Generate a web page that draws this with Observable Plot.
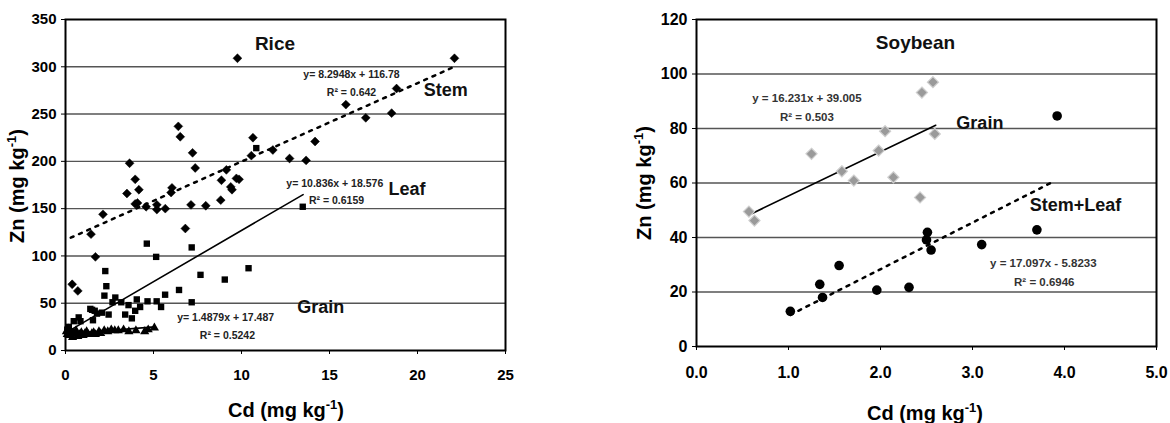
<!DOCTYPE html>
<html>
<head>
<meta charset="utf-8">
<script src="https://cdn.jsdelivr.net/npm/d3@7"></script>
<script src="https://cdn.jsdelivr.net/npm/@observablehq/plot@0.6"></script>
<style>
  body { margin: 0; background: #fff; }
  #wrap { position: relative; width: 1170px; height: 423px; overflow: hidden; background: #fff; }
  #left, #right { position: absolute; top: 0; }
  #left { left: 0; }
  #right { left: 585px; }
  svg { font-family: "Liberation Sans", Arial, sans-serif; }
</style>
</head>
<body>
<div id="wrap"><div id="left"></div><div id="right"></div></div>
<script>
// ---------- Rice (left panel) ----------
const riceXTicks = [0, 5, 10, 15, 20, 25];
const riceYTicks = [0, 50, 100, 150, 200, 250, 300, 350];
const riceStem = [[0.38,70],[0.7,63],[1.45,123],[1.7,99],[2.13,144],[3.49,166],[3.64,198],[3.96,181],[3.96,155],[4.09,156],[4.17,170],[4.58,152],[5.19,154],[5.19,149],[5.67,150],[6.0,167],[6.05,172],[6.41,237],[6.52,226],[6.81,129],[7.13,154],[7.22,209],[7.37,193],[7.97,153],[8.82,159],[8.86,180],[9.14,191],[9.39,173],[9.46,170],[9.71,182],[9.77,309],[9.86,181],[10.56,206],[10.65,225],[11.78,212],[12.73,203],[13.67,201],[14.18,221],[15.93,260],[17.06,246],[18.53,251],[18.81,277],[22.1,309]];
const riceLeaf = [[0.1,22],[0.19,25],[0.3,20],[0.47,31],[0.75,35],[0.85,31],[1.41,44],[1.51,43],[1.56,32],[1.66,42],[1.79,39],[2.07,40],[2.26,84],[2.32,68],[2.21,58],[2.45,38],[2.67,51],[2.83,56],[3.17,51],[3.39,38],[3.58,48],[3.77,34],[3.96,42],[4.05,54],[4.24,46],[4.62,113],[4.66,52],[5.15,99],[5.18,52],[5.43,46],[5.66,59],[6.45,64],[7.17,109],[7.17,51],[7.67,80],[9.05,75],[10.4,87],[10.84,214],[13.48,152]];
const riceGrain = [[0.05,20],[0.1,17],[0.15,23],[0.2,16],[0.3,19],[0.4,14],[0.5,18],[0.6,21],[0.7,15],[0.8,17],[0.9,19],[1.0,16],[1.1,18],[1.2,20],[1.3,17],[1.5,18],[1.6,19],[1.7,17],[1.9,20],[2.0,18],[2.2,21],[2.4,20],[2.6,22],[2.8,21],[3.0,21],[3.3,22],[3.6,20],[4.0,21],[4.5,20],[4.7,22],[5.05,24]];
// fitted lines: [slope, intercept, xStart, xEnd]
const riceFits = {stem: [8.2948, 116.78, 0.3, 22.0], leaf: [10.836, 18.576, 0.1, 13.5], grain: [1.4879, 17.487, 0.0, 5.05]};
const riceLabels = [
  {x: 11.9, y: 324, t: "Rice", s: 19},
  {x: 21.6, y: 275, t: "Stem", s: 18},
  {x: 19.4, y: 171, t: "Leaf", s: 18},
  {x: 14.5, y: 46, t: "Grain", s: 18}
];
const riceEqs = [
  {x: 16.25, y: 292, t: "y= 8.2948x + 116.78"},
  {x: 16.25, y: 273, t: "R² = 0.642"},
  {x: 15.3, y: 176.5, t: "y= 10.836x + 18.576"},
  {x: 15.4, y: 158.5, t: "R² = 0.6159"},
  {x: 9.1, y: 35, t: "y= 1.4879x + 17.487"},
  {x: 9.2, y: 16, t: "R² = 0.5242"}
];

// ---------- Soybean (right panel) ----------
const soyXTicks = [0, 1, 2, 3, 4, 5];
const soyYTicks = [0, 20, 40, 60, 80, 100, 120];
const soyGrain = [[0.57,49.5],[0.63,46.2],[1.25,70.7],[1.58,64.3],[1.71,60.9],[1.98,71.9],[2.05,79],[2.14,62.1],[2.43,54.7],[2.45,93.2],[2.57,97],[2.59,78]];
const soyStemLeaf = [[1.02,12.9],[1.34,22.8],[1.37,18],[1.55,29.7],[1.96,20.7],[2.31,21.7],[2.51,41.9],[2.5,39.1],[2.55,35.4],[3.1,37.4],[3.7,42.8],[3.92,84.6]];
const soyFits = {grain: [16.231, 39.005, 0.57, 2.6], stem: [17.097, -5.8233, 1.02, 3.85]};
const soyLabels = [
  {x: 2.38, y: 111.3, t: "Soybean", s: 19},
  {x: 3.08, y: 81.8, t: "Grain", s: 18},
  {x: 4.12, y: 51.7, t: "Stem+Leaf", s: 18}
];
const soyEqs = [
  {x: 1.2, y: 91, t: "y = 16.231x + 39.005"},
  {x: 1.2, y: 84, t: "R² = 0.503"},
  {x: 3.77, y: 30.4, t: "y = 17.097x - 5.8233"},
  {x: 3.78, y: 23.5, t: "R² = 0.6946"}
];

const fitLine = f => [{x: f[2], y: f[0]*f[2] + f[1]}, {x: f[3], y: f[0]*f[3] + f[1]}];
const pts = a => a.map(([x, y]) => ({x, y}));
const FONT = "Liberation Sans, Arial, sans-serif";

function axisTitles(svg, yCx, yCy, xCx, xCy) {
  const s = d3.select(svg);
  const yt = s.append("text").attr("transform", `translate(${yCx},${yCy}) rotate(-90)`)
    .attr("text-anchor", "middle").attr("font-size", 20).attr("font-weight", "bold")
    .attr("font-family", FONT).attr("fill", "#000");
  yt.append("tspan").text("Zn (mg kg");
  yt.append("tspan").attr("font-size", 13).attr("dy", -8).text("-1");
  yt.append("tspan").attr("dy", 8).text(")");
  const xt = s.append("text").attr("x", xCx).attr("y", xCy)
    .attr("text-anchor", "middle").attr("font-size", 20).attr("font-weight", "bold")
    .attr("font-family", FONT).attr("fill", "#000");
  xt.append("tspan").text("Cd (mg kg");
  xt.append("tspan").attr("font-size", 13).attr("dy", -8).text("-1");
  xt.append("tspan").attr("dy", 8).text(")");
}

const left = Plot.plot({
  width: 585, height: 423,
  marginLeft: 65, marginRight: 80, marginTop: 19, marginBottom: 73,
  style: {fontFamily: FONT, background: "#fff"},
  x: {domain: [0, 25]},
  y: {domain: [0, 350]},
  marks: [
    Plot.ruleY(riceYTicks.filter(d => d > 0 && d < 350), {stroke: "#555", strokeWidth: 1.4}),
    Plot.frame({stroke: "#000", strokeWidth: 2}),
    Plot.axisX({ticks: riceXTicks, tickSize: 4, tickPadding: 15, fontSize: 15, fontWeight: "bold", label: null, tickFormat: d3.format("d"), stroke: "#000"}),
    Plot.axisY({ticks: riceYTicks, tickSize: 4, tickPadding: 5, fontSize: 15, fontWeight: "bold", label: null, tickFormat: d3.format("d"), stroke: "#000"}),
    Plot.line(fitLine(riceFits.stem), {x: "x", y: "y", stroke: "#000", strokeWidth: 2.5, strokeDasharray: "3,6"}),
    Plot.line(fitLine(riceFits.leaf), {x: "x", y: "y", stroke: "#000", strokeWidth: 1.6}),
    Plot.line(fitLine(riceFits.grain), {x: "x", y: "y", stroke: "#000", strokeWidth: 1.6}),
    Plot.dot(pts(riceStem), {x: "x", y: "y", symbol: "diamond2", r: 4, fill: "#000", stroke: "#000", strokeWidth: 0.5}),
    Plot.dot(pts(riceLeaf), {x: "x", y: "y", symbol: "square", r: 3.6, fill: "#000"}),
    Plot.dot(pts(riceGrain), {x: "x", y: "y", symbol: "triangle", r: 3.4, fill: "#000"}),
    Plot.text(riceLabels, {x: "x", y: "y", text: "t", fontSize: "s", fontWeight: "bold", fill: "#111", textAnchor: "middle"}),
    Plot.text(riceEqs, {x: "x", y: "y", text: "t", fontSize: 10.5, fontWeight: "bold", fill: "#222", textAnchor: "middle", letterSpacing: "-0.4px"})
  ]
});
document.getElementById("left").appendChild(left);
axisTitles(left, 24, 186, 286, 417);

const right = Plot.plot({
  width: 585, height: 423,
  marginLeft: 111, marginRight: 14, marginTop: 19, marginBottom: 77,
  style: {fontFamily: FONT, background: "#fff"},
  x: {domain: [0, 5]},
  y: {domain: [0, 120]},
  marks: [
    Plot.ruleY(soyYTicks.filter(d => d > 0 && d < 120), {stroke: "#555", strokeWidth: 1.4}),
    Plot.frame({stroke: "#000", strokeWidth: 2}),
    Plot.axisX({ticks: soyXTicks, tickSize: 4, tickPadding: 16, fontSize: 16, fontWeight: "bold", label: null, tickFormat: d3.format(".1f"), stroke: "#000"}),
    Plot.axisY({ticks: soyYTicks, tickSize: 4, tickPadding: 5, fontSize: 16, fontWeight: "bold", label: null, tickFormat: d3.format("d"), stroke: "#000"}),
    Plot.line(fitLine(soyFits.grain), {x: "x", y: "y", stroke: "#000", strokeWidth: 1.6}),
    Plot.line(fitLine(soyFits.stem), {x: "x", y: "y", stroke: "#000", strokeWidth: 2.5, strokeDasharray: "3,6"}),
    Plot.dot(pts(soyGrain), {x: "x", y: "y", symbol: "diamond2", r: 5, fill: "#9a9a9a", stroke: "#cfcfcf", strokeWidth: 1.2}),
    Plot.dot(pts(soyStemLeaf), {x: "x", y: "y", symbol: "circle", r: 4.8, fill: "#000"}),
    Plot.text(soyLabels, {x: "x", y: "y", text: "t", fontSize: "s", fontWeight: "bold", fill: "#111", textAnchor: "middle"}),
    Plot.text(soyEqs, {x: "x", y: "y", text: "t", fontSize: 11.5, fontWeight: "bold", fill: "#333", textAnchor: "middle", letterSpacing: "-0.2px"})
  ]
});
document.getElementById("right").appendChild(right);
axisTitles(right, 66, 183, 340, 420);
</script>
</body>
</html>
